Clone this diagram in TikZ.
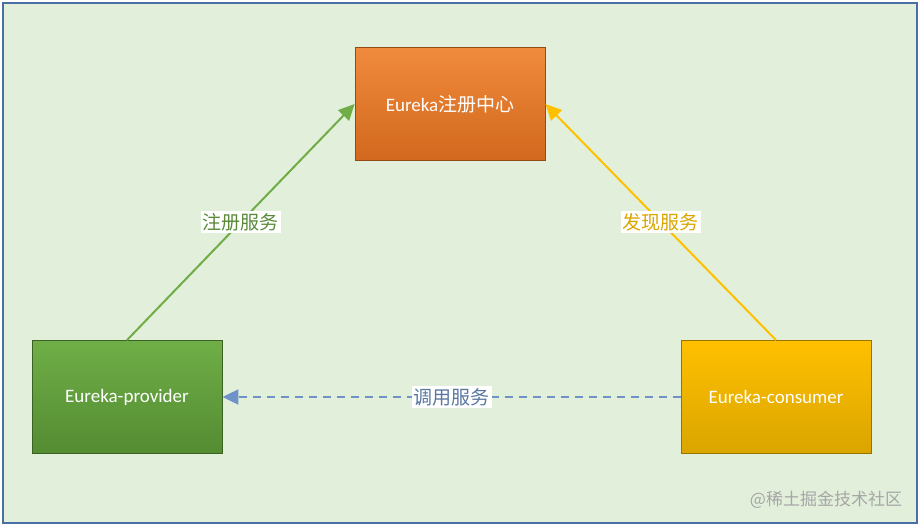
\documentclass[tikz,border=0pt]{standalone}
\usepackage{fontspec}
\setmainfont{Carlito}
\newfontfamily\cjk{Noto Sans CJK SC}
\usetikzlibrary{arrows.meta}
\definecolor{bg}{HTML}{E2EFDA}
\definecolor{frame}{HTML}{4A6FA5}
\definecolor{og1}{HTML}{F08A3C}\definecolor{og2}{HTML}{D2691E}
\definecolor{gr1}{HTML}{6FAE47}\definecolor{gr2}{HTML}{548C32}
\definecolor{yl1}{HTML}{FFC000}\definecolor{yl2}{HTML}{DAA500}
\definecolor{ga}{HTML}{70AD47}\definecolor{ya}{HTML}{FFC000}\definecolor{ba}{HTML}{6F93C8}
\begin{document}
\begin{tikzpicture}[x=1pt,y=-1pt,
 box/.style={minimum width=190pt,minimum height=113pt,inner sep=0pt,text=white,font=\fontsize{19}{21}\selectfont,draw=#1!70!black,line width=0.8pt},
 lab/.style={fill=white,inner sep=2pt,font=\cjk\fontsize{19}{21}\selectfont},
 arr/.style={line width=2pt,-{Triangle[length=16pt,width=15pt]}}]
\useasboundingbox (0,0) rectangle (923,529);
\fill[bg] (3,3) rectangle (917,523);
\draw[frame,line width=1.4pt] (3,3) rectangle (917,523);
\node[box=og2,top color=og1,bottom color=og2] (c) at (450,104) {Eureka{\cjk 注册中心}};
\node[box=gr2,top color=gr1,bottom color=gr2] (p) at (127,397) {Eureka-provider};
\node[box=yl2,top color=yl1,bottom color=yl2] (s) at (776,397) {Eureka-consumer};
\draw[ga,arr] (p.north) -- (c.west) node[pos=0.5,lab,text=ga!80!black]{注册服务};
\draw[ya,arr] (s.north) -- (c.east) node[pos=0.5,lab,text=yl2]{发现服务};
\draw[ba,arr,dash pattern=on 8pt off 6pt] (s.west) -- (p.east) node[pos=0.5,lab,text=ba!80!black]{调用服务};
\node[font=\cjk\fontsize{17}{19}\selectfont,text=gray!70] (w) at (826,500) {@稀土掘金技术社区};
\end{tikzpicture}
\end{document}
